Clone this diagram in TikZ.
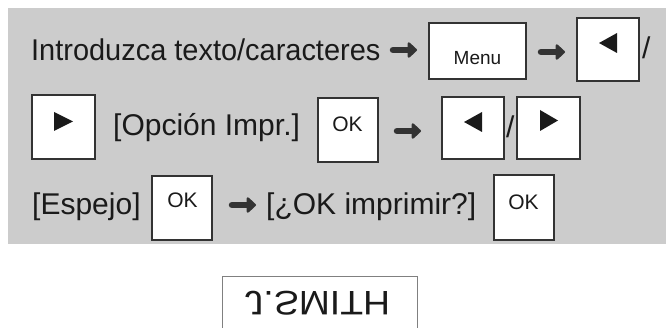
\documentclass[tikz,border=0pt]{standalone}
\usepackage{fontspec}
\setmainfont{Liberation Sans}
\usetikzlibrary{arrows.meta}
\definecolor{panel}{HTML}{CCCCCC}
\definecolor{ink}{HTML}{1A1A1A}
\definecolor{rim}{HTML}{333333}
\tikzset{key/.style={draw=rim,fill=white,line width=1.2pt,inner sep=0pt},
  txt/.style={anchor=base west,inner sep=0pt,text=ink,font=\fontsize{30}{36}\selectfont},
  keytxt/.style={anchor=base,inner sep=0pt,text=ink,font=\fontsize{21}{25}\selectfont},
  tri/.style={fill=ink},
  flow/.style={draw=rim,line width=6.5pt,line cap=round,-{Triangle[length=10pt,width=18pt,round]}}}

\begin{document}
\begin{tikzpicture}[x=1pt,y=-1pt]
  \useasboundingbox (0,0) rectangle (666,328);
  \fill[panel] (8,8) rectangle (666,244);
  % row 1
  \node[txt] (t1) at (31,61) {\scalebox{0.965}[1]{Introduzca texto/caracteres}};
  \coordinate (a1s) at (393,50); \coordinate (a1e) at (417,50);
  \node[key,minimum width=97pt,minimum height=56pt] (menu) at (477.5,51) {};
  \node[keytxt,font=\fontsize{19}{23}\selectfont] (menut) at (477.5,65) {Menu};
  \coordinate (a2s) at (541,52); \coordinate (a2e) at (565,52);
  \node[key,minimum width=62pt,minimum height=63pt] (lb1) at (608,49.5) {};
  \fill[tri] (599,43) -- (617,33) -- (617,53) -- cycle;
  \node[txt] (s1) at (642,59) {/};
  % row 2
  \node[key,minimum width=63pt,minimum height=64pt] (rb1) at (63.5,127) {};
  \fill[tri] (73,121.5) -- (54,112) -- (54,131) -- cycle;
  \node[txt] (t2) at (113,136) {[Opción Impr.]};
  \node[key,minimum width=60pt,minimum height=64pt] (ok1) at (348,130) {};
  \node[keytxt] (ok1t) at (347.5,132) {OK};
  \coordinate (a3s) at (397,131); \coordinate (a3e) at (421,131);
  \node[key,minimum width=62pt,minimum height=62pt] (lb2) at (473,128) {};
  \fill[tri] (464,122) -- (482,112) -- (482,132) -- cycle;
  \node[txt] (s2) at (506,138) {/};
  \node[key,minimum width=63pt,minimum height=62pt] (rb2) at (548.5,128) {};
  \fill[tri] (558,120.5) -- (540,110) -- (540,131) -- cycle;
  % row 3
  \node[txt] (t3) at (32,215) {[Espejo]};
  \node[key,minimum width=60pt,minimum height=64pt] (ok2) at (182,208) {};
  \node[keytxt] (ok2t) at (182.5,208) {OK};
  \coordinate (a4s) at (232,205); \coordinate (a4e) at (256,205);
  \node[txt] (t4) at (266,215) {[¿OK imprimir?]};
  \node[key,minimum width=60pt,minimum height=65pt] (ok3) at (524,207.5) {};
  \node[keytxt] (ok3t) at (523.5,210) {OK};
  \draw[flow] (a1s) -- (a1e);
  \draw[flow] (a2s) -- (a2e);
  \draw[flow] (a3s) -- (a3e);
  \draw[flow] (a4s) -- (a4e);
  % tape
  \draw[gray,line width=1pt] (222,330) -- (222,277) -- (417,277) -- (417,330);
  \node[inner sep=0pt,text=ink,font=\fontsize{34}{40}\selectfont] (tape) at (317.5,303.5) {\scalebox{1.1}[-1]{J.SMITH}};
\end{tikzpicture}
\end{document}
